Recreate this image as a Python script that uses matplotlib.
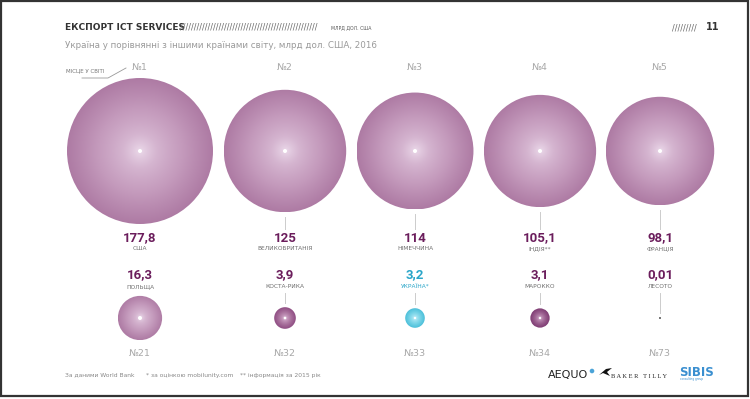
import numpy as np
import matplotlib
matplotlib.use('Agg')
import matplotlib.pyplot as plt
from matplotlib.patches import Circle, Rectangle
from matplotlib.colors import LinearSegmentedColormap

# data
top_ranks = ['№1', '№2', '№3', '№4', '№5']
top_values = [177.8, 125, 114, 105.1, 98.1]
top_labels = ['177,8', '125', '114', '105,1', '98,1']
top_countries = ['США', 'ВЕЛИКОБРИТАНІЯ', 'НІМЕЧЧИНА', 'ІНДІЯ**', 'ФРАНЦІЯ']

bottom_ranks = ['№21', '№32', '№33', '№34', '№73']
bottom_values = [16.3, 3.9, 3.2, 3.1, 0.01]
bottom_labels = ['16,3', '3,9', '3,2', '3,1', '0,01']
bottom_countries = ['ПОЛЬЩА', 'КОСТА-РИКА', 'УКРАЇНА*', 'МАРОККО', 'ЛЕСОТО']

# layout (pixels)
col_x = [140, 285, 415, 540, 660]
top_y = 151
bot_y = 318
scale = 73 / np.sqrt(177.8)   # radius ~ sqrt(value)

PURPLE_TXT = '#6b1d5c'
CYAN_TXT = '#2aa6c9'
GREY_TXT = '#6e6e6e'
RANK_TXT = '#a8a8a8'
LINE = '#cccccc'

fig = plt.figure(figsize=(7.5, 3.99), dpi=100)
ax = fig.add_axes([0, 0, 1, 1])

# radial gradient image, reused for every bubble
g = np.linspace(-1, 1, 301)
xx, yy = np.meshgrid(g, g)
dist = np.clip(np.sqrt(xx**2 + yy**2), 0, 1)
grad = dist**0.75


def bubble(cx, cy, r, cols, dot=True):
    cmap = LinearSegmentedColormap.from_list('b', cols)
    im = ax.imshow(grad, cmap=cmap, vmin=0, vmax=1, interpolation='bilinear',
                   extent=(cx - r, cx + r, cy + r, cy - r), zorder=2)
    clip = Circle((cx, cy), r, transform=ax.transData)
    im.set_clip_path(clip)
    if dot:
        ax.add_patch(Circle((cx, cy), min(2.0, r * 0.12), color='white', zorder=3, lw=0))


# top row
big_cols = ['#eddcec', '#d5b5d0', '#c49abc', '#ae7ba4']
for i in range(5):
    cx = col_x[i]
    r = scale * np.sqrt(top_values[i])
    bubble(cx, top_y, r, big_cols)
    ax.text(cx, 67, top_ranks[i], ha='center', va='center', fontsize=6.8,
            color=RANK_TXT, family='DejaVu Sans')
    y0 = top_y + r + 5
    if y0 < 229:
        ax.plot([cx, cx], [y0, 229], color=LINE, lw=0.7, zorder=1)
    ax.text(cx, 238, top_labels[i], ha='center', va='center', fontsize=9.5,
            fontweight='bold', color=PURPLE_TXT, family='Roboto')
    ax.text(cx, 248.5, top_countries[i], ha='center', va='center', fontsize=4.2,
            color=GREY_TXT)

# bottom row
small_cols = [
    big_cols,
    ['#ead6e8', '#c497bb', '#a8709c', '#8f4d83'],
    ['#d6f5fb', '#9fe2f0', '#73d2e6', '#4cbfd9'],
    ['#e6d0e4', '#b886ae', '#985c8c', '#7d3a72'],
    None,
]
for i in range(5):
    cx = col_x[i]
    r = scale * np.sqrt(bottom_values[i])
    ukr = bottom_countries[i].startswith('УКРАЇНА')
    if r < 2:
        ax.add_patch(Circle((cx, bot_y), 1.0, color='#555555', lw=0, zorder=2))
    else:
        bubble(cx, bot_y, r, small_cols[i])
    y1 = bot_y - max(r, 1) - 4
    if y1 > 293:
        ax.plot([cx, cx], [293, y1], color=LINE, lw=0.7, zorder=1)
    ax.text(cx, 275, bottom_labels[i], ha='center', va='center', fontsize=9.5,
            fontweight='bold', color=CYAN_TXT if ukr else PURPLE_TXT, family='Roboto')
    ax.text(cx, 286.5, bottom_countries[i], ha='center', va='center', fontsize=4.2,
            color=CYAN_TXT if ukr else GREY_TXT)
    ax.text(cx, 353, bottom_ranks[i], ha='center', va='center', fontsize=6.8,
            color=RANK_TXT)

# "місце у світі" pointer
ax.text(66, 71, 'МІСЦЕ У СВІТІ', ha='left', va='center', fontsize=4.0, color='#777777')
ax.plot([82, 108, 126], [78, 78, 68], color='#999999', lw=0.6)

# header
ax.text(65, 27, 'ЕКСПОРТ ICT SERVICES', ha='left', va='center', fontsize=6.5,
        fontweight='bold', color='#333333')
ax.text(180, 27.5, '/' * 50, ha='left', va='center', fontsize=5.8, color='#666666')
ax.text(331, 28, 'МЛРД ДОЛ. США', ha='left', va='center', fontsize=3.3, color='#555555')
ax.text(672, 28, '/' * 9, ha='left', va='center', fontsize=5.8, color='#666666')
ax.text(706, 27.5, '11', ha='left', va='center', fontsize=7, fontweight='bold',
        color='#333333')
ax.text(65, 45, 'Україна у порівнянні з іншими країнами світу, млрд дол. США, 2016',
        ha='left', va='center', fontsize=6.3, color='#9a9a9a')

# footer
ax.text(65, 375, 'За даними World Bank', ha='left', va='center', fontsize=4.3, color='#888888')
ax.text(146, 375, '* за оцінкою mobilunity.com', ha='left', va='center', fontsize=4.3,
        color='#888888')
ax.text(240, 375, '** інформація за 2015 рік', ha='left', va='center', fontsize=4.3,
        color='#888888')
ax.text(548, 375, 'AEQUO', ha='left', va='center', fontsize=8, color='#222222')
ax.add_patch(Circle((592, 371), 2.3, color='#4aa3d8', lw=0))
ax.fill([599, 606, 612, 607, 610, 603], [375, 369, 368, 372, 376, 373], color='#111111', lw=0)
ax.text(611, 377, 'B A K E R   T I L L Y', ha='left', va='center', fontsize=4.6,
        color='#222222', family='Liberation Serif')
ax.text(679, 372, 'SIBIS', ha='left', va='center', fontsize=8.5, fontweight='bold',
        color='#3a8fd0')
ax.text(680, 379, 'consulting group', ha='left', va='center', fontsize=2, color='#3a8fd0')

# frame
ax.add_patch(Rectangle((1, 1), 747, 395, fill=False, edgecolor='#333333', lw=1.6, zorder=5))

ax.set_xlim(0, 750)
ax.set_ylim(399, 0)
ax.set_aspect('auto')
ax.axis('off')

fig.savefig('out.png', dpi=100, facecolor='white')
